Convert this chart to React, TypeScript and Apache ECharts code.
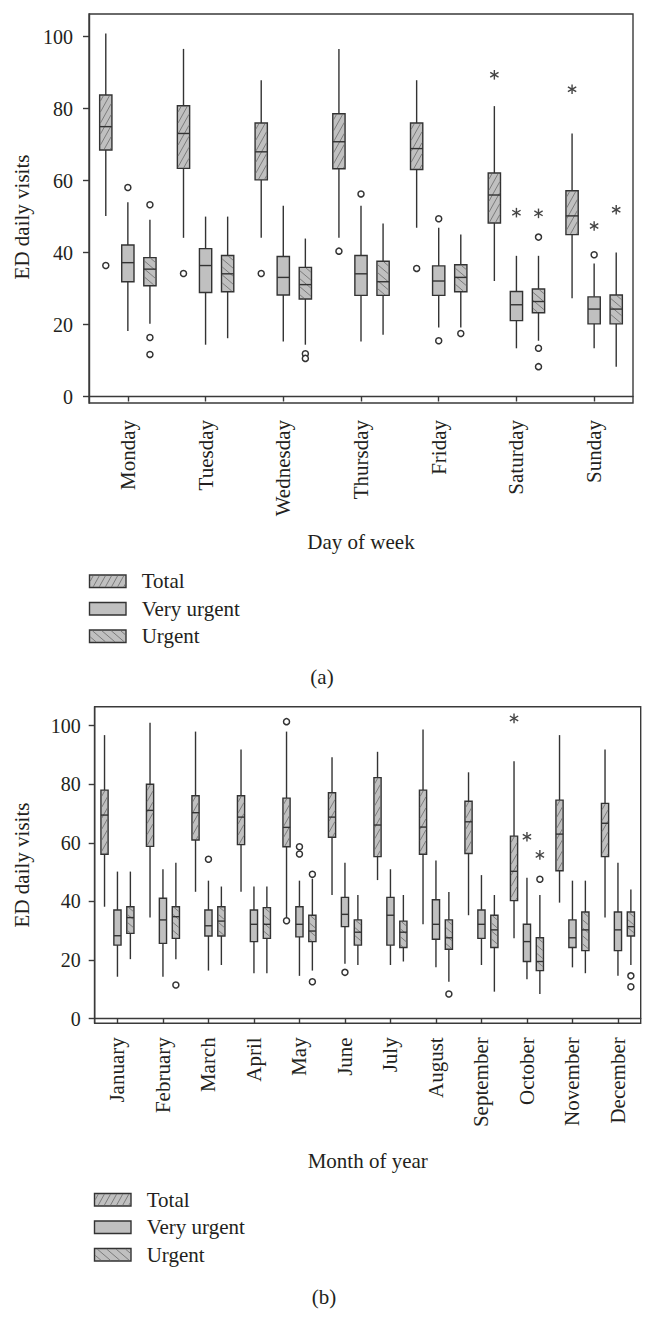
import React, { useEffect, useRef } from "react";
import * as echarts from "echarts";

// ---------- Data ----------
const days = ["Monday", "Tuesday", "Wednesday", "Thursday", "Friday", "Saturday", "Sunday"];
const months = ["January", "February", "March", "April", "May", "June", "July", "August", "September", "October", "November", "December"];
const yTickValues = [0, 20, 40, 60, 80, 100];
const seriesNames = ["Total", "Very urgent", "Urgent"];

// [min, q1, median, q3, max]
const dayTotal = [
  [50.2, 68.5, 75, 83.8, 100.9],
  [44.1, 63.4, 73.1, 80.8, 96.6],
  [44.1, 60.2, 68, 76, 87.9],
  [44.1, 63.3, 70.8, 78.6, 96.6],
  [46.9, 63.1, 68.9, 76, 87.9],
  [32.1, 48.2, 56, 62.1, 80.7],
  [27.3, 45, 50.2, 57.2, 73.1],
];
const dayVeryUrgent = [
  [18.2, 31.9, 37.2, 42.1, 54],
  [14.4, 28.9, 36.4, 41.1, 50],
  [15.3, 28.2, 33.1, 38.9, 53],
  [15.3, 28.1, 34.1, 39.2, 53],
  [19.2, 28.1, 32.1, 36.3, 46.9],
  [13.4, 21.1, 25.5, 29.2, 39.1],
  [13.4, 20.2, 24.3, 27.7, 37],
];
const dayUrgent = [
  [20.2, 30.8, 35.4, 38.6, 49.1],
  [16.2, 29.1, 34.1, 39.2, 50],
  [14.4, 27.1, 31.1, 35.9, 43.9],
  [17.2, 28.1, 31.9, 37.6, 48.1],
  [19.2, 29.1, 33.1, 36.6, 45],
  [15.5, 23.3, 26.4, 29.9, 39.1],
  [8.3, 20.2, 24.3, 28.2, 40],
];
// outliers: [categoryIndex, value]
const dayTotalCircles = [[0, 36.4], [1, 34.2], [2, 34.2], [3, 40.4], [4, 35.6]];
const dayTotalStars = [[5, 89.4], [6, 85.4]];
const dayVeryUrgentCircles = [[0, 58.1], [3, 56.3], [4, 49.4], [4, 15.5], [6, 39.4]];
const dayVeryUrgentStars = [[5, 51.1], [6, 47.4]];
const dayUrgentCircles = [[0, 53.3], [0, 16.4], [0, 11.7], [2, 11.9], [2, 10.6], [4, 17.5], [5, 44.3], [5, 13.4], [5, 8.3]];
const dayUrgentStars = [[5, 50.9], [6, 51.9]];

const monthTotal = [
  [38.2, 56.1, 69.5, 78, 96.8],
  [34.5, 58.8, 71.1, 80, 101],
  [43.3, 61, 70.3, 76.1, 98],
  [43.3, 59.4, 68.8, 76.1, 91.9],
  [34.2, 58.7, 65.3, 75.3, 98],
  [42.2, 61.9, 68.8, 77.1, 89.2],
  [47.3, 55.3, 66.1, 82.3, 91.1],
  [32.2, 56.1, 65.4, 78, 98.7],
  [35.3, 56.4, 67.2, 74.2, 84.1],
  [27.4, 40.3, 50.3, 62.3, 87.9],
  [39.6, 50.5, 63, 74.6, 96.8],
  [34.5, 55.3, 66.7, 73.5, 91.9],
];
const monthVeryUrgent = [
  [14.3, 25.1, 28.3, 37.1, 50.2],
  [14.3, 25.7, 33.7, 41.1, 51],
  [16.4, 28.2, 31.7, 37.1, 47.1],
  [15.5, 26.3, 32.2, 37.1, 45.1],
  [14.6, 27.9, 32.2, 38.2, 47.1],
  [18.7, 31.4, 35.6, 41.4, 53.2],
  [18.3, 25.1, 35.3, 41.4, 51],
  [17.5, 27.1, 32.2, 40.6, 54],
  [18.3, 27.4, 32.2, 37.1, 49],
  [13.4, 19.5, 26.3, 32.2, 48.1],
  [17.5, 24.3, 27.6, 33.7, 47.1],
  [14.6, 23.2, 30.3, 36.4, 53.2],
];
const monthUrgent = [
  [20.3, 29.1, 34.5, 38.2, 50.2],
  [20.3, 27.4, 34.8, 38.2, 53.2],
  [18.3, 28.2, 33.3, 38.2, 45.1],
  [15.5, 27.4, 32.2, 37.9, 45.1],
  [16.4, 26.3, 29.9, 35.3, 47.8],
  [18.3, 25.1, 29.5, 33.7, 42.2],
  [19.5, 24.3, 29.5, 33.3, 42.2],
  [12.6, 23.7, 27.6, 33.7, 43.2],
  [9.2, 24.3, 30.3, 35.3, 42.2],
  [8.4, 16.4, 19.5, 27.6, 42.2],
  [15.5, 23.2, 30.3, 36.4, 47.1],
  [18.3, 28.2, 31.4, 36.4, 44.1],
];
const monthTotalCircles = [[4, 101.4], [4, 33.4]];
const monthTotalStars = [[9, 102.5]];
const monthVeryUrgentCircles = [[2, 54.4], [4, 58.7], [4, 56.2], [5, 15.8]];
const monthVeryUrgentStars = [[9, 62.1]];
const monthUrgentCircles = [[1, 11.5], [4, 49.3], [4, 12.6], [7, 8.4], [9, 47.6], [11, 14.6], [11, 10.9]];
const monthUrgentStars = [[9, 55.9]];

// ---------- Styling helpers ----------
const FONT = "'Liberation Serif', 'DejaVu Serif', serif";
const INK = "#231f20";
const LINE = "#333333";
const FILL = "#c0c0c0";
const HATCH = "#6a6a6a";
const OFFSETS = [-0.284, 0, 0.284]; // fraction of category band
const BOX_FRAC = 0.158;

type Hatch = { dir: 1 | -1; slope: number; step: number } | null;
const HATCHES: Hatch[] = [
  { dir: 1, slope: 1.8, step: 11 },
  null,
  { dir: -1, slope: 0.85, step: 8 },
];

function hatchLines(x0: number, y0: number, w: number, h: number, hatch: Hatch) {
  const out: any[] = [];
  if (!hatch || w <= 0 || h <= 0) return out;
  const { dir, slope, step } = hatch;
  const style = { stroke: HATCH, lineWidth: 0.8 };
  if (dir === 1) {
    for (let c = y0 + step / 2; c < y0 + h + slope * w; c += step) {
      let xa = x0 + (c - (y0 + h)) / slope;
      let xb = x0 + (c - y0) / slope;
      xa = Math.max(xa, x0);
      xb = Math.min(xb, x0 + w);
      if (xb <= xa) continue;
      out.push({
        type: "line",
        shape: { x1: xa, y1: c - slope * (xa - x0), x2: xb, y2: c - slope * (xb - x0) },
        style,
      });
    }
  } else {
    for (let c = y0 - slope * w + step / 2; c < y0 + h; c += step) {
      let xa = x0 + (y0 - c) / slope;
      let xb = x0 + (y0 + h - c) / slope;
      xa = Math.max(xa, x0);
      xb = Math.min(xb, x0 + w);
      if (xb <= xa) continue;
      out.push({
        type: "line",
        shape: { x1: xa, y1: c + slope * (xa - x0), x2: xb, y2: c + slope * (xb - x0) },
        style,
      });
    }
  }
  return out;
}

function boxSeries(name: string, stats: number[][], axis: number, k: number) {
  return {
    type: "custom",
    name,
    xAxisIndex: axis,
    yAxisIndex: axis,
    clip: false,
    data: stats.map((s, i) => [i, ...s]),
    encode: { x: 0, y: [1, 2, 3, 4, 5] },
    renderItem: (params: any, api: any) => {
      const i = api.value(0);
      const band = api.size([1, 0])[0];
      const cx = api.coord([i, 0])[0] + OFFSETS[k] * band;
      const w = band * BOX_FRAC;
      const yMin = api.coord([i, api.value(1)])[1];
      const yQ1 = api.coord([i, api.value(2)])[1];
      const yMed = api.coord([i, api.value(3)])[1];
      const yQ3 = api.coord([i, api.value(4)])[1];
      const yMax = api.coord([i, api.value(5)])[1];
      const ls = { stroke: LINE, lineWidth: 1.4 };
      const x0 = cx - w / 2;
      return {
        type: "group",
        children: [
          { type: "line", shape: { x1: cx, y1: yMax, x2: cx, y2: yQ3 }, style: ls },
          { type: "line", shape: { x1: cx, y1: yQ1, x2: cx, y2: yMin }, style: ls },
          { type: "rect", shape: { x: x0, y: yQ3, width: w, height: yQ1 - yQ3 }, style: { fill: FILL, stroke: LINE, lineWidth: 1.4 } },
          ...hatchLines(x0 + 0.7, yQ3 + 0.7, w - 1.4, yQ1 - yQ3 - 1.4, HATCHES[k]),
          { type: "line", shape: { x1: x0, y1: yMed, x2: x0 + w, y2: yMed }, style: ls },
        ],
      };
    },
  };
}

function outlierSeries(name: string, circles: number[][], stars: number[][], axis: number, k: number) {
  const data = [...circles.map((c) => [c[0], c[1], 0]), ...stars.map((s) => [s[0], s[1], 1])];
  return {
    type: "custom",
    name: name + " outliers",
    xAxisIndex: axis,
    yAxisIndex: axis,
    clip: false,
    data,
    encode: { x: 0, y: 1 },
    renderItem: (params: any, api: any) => {
      const i = api.value(0);
      const band = api.size([1, 0])[0];
      const p = api.coord([i, api.value(1)]);
      const cx = p[0] + OFFSETS[k] * band;
      const cy = p[1];
      if (api.value(2) === 0) {
        return { type: "circle", shape: { cx, cy, r: 3 }, style: { fill: "#fff", stroke: LINE, lineWidth: 1.5 } };
      }
      const r = 4.8;
      const st = { stroke: "#444", lineWidth: 1.4 };
      const a = Math.PI / 3;
      return {
        type: "group",
        children: [0, 1, 2].map((j) => ({
          type: "line",
          shape: {
            x1: cx + r * Math.sin(j * a),
            y1: cy - r * Math.cos(j * a),
            x2: cx - r * Math.sin(j * a),
            y2: cy + r * Math.cos(j * a),
          },
          style: st,
        })),
      };
    },
  };
}

function legendGraphic(x: number, y: number, gap: number, textX: number) {
  const children: any[] = [];
  const w = 36.5;
  const h = 12.5;
  seriesNames.forEach((n, k) => {
    const top = y + k * gap;
    children.push({ type: "rect", shape: { x, y: top, width: w, height: h }, style: { fill: FILL, stroke: LINE, lineWidth: 1.4 } });
    hatchLines(x + 0.7, top + 0.7, w - 1.4, h - 1.4, HATCHES[k]).forEach((l) => children.push(l));
    children.push({
      type: "text",
      x: textX,
      y: top + h / 2,
      style: { text: n, fill: INK, font: `21px ${FONT}`, textVerticalAlign: "middle", textAlign: "left" },
    });
  });
  return { type: "group", children };
}

function makeAxes(
  idx: number,
  cats: string[],
  xName: string,
  xNameGap: number,
  labelMargin: number,
  yMin: number,
  yMax: number,
  yLabelMargin: number,
  yNameGap: number,
  yNamePad: number[]
) {
  const axisLine = { show: true, lineStyle: { color: "#3a3a3a", width: 1.4 } };
  return {
    x: {
      type: "category",
      gridIndex: idx,
      data: cats,
      boundaryGap: true,
      axisLine,
      axisTick: { show: true, alignWithLabel: true, length: 5, lineStyle: { color: "#3a3a3a", width: 1.4 } },
      axisLabel: { interval: 0, rotate: 90, margin: labelMargin, color: INK, fontFamily: FONT, fontSize: 21 },
      name: xName,
      nameLocation: "middle",
      nameGap: xNameGap,
      nameTextStyle: { color: INK, fontFamily: FONT, fontSize: 21 },
      splitLine: { show: false },
    },
    y: {
      type: "value",
      gridIndex: idx,
      min: yMin,
      max: yMax,
      axisLine,
      axisTick: { show: true, length: 6, customValues: yTickValues, lineStyle: { color: "#3a3a3a", width: 1.4 } },
      axisLabel: { customValues: yTickValues, margin: yLabelMargin, color: INK, fontFamily: FONT, fontSize: 20 },
      splitLine: { show: false },
      name: "ED daily visits",
      nameLocation: "middle",
      nameGap: yNameGap,
      nameTextStyle: { color: INK, fontFamily: FONT, fontSize: 21, padding: yNamePad },
    },
  };
}

export default function App() {
  const ref = useRef<HTMLDivElement>(null);
  useEffect(() => {
    if (!ref.current) return;
    const chart = echarts.init(ref.current, null, { renderer: "svg" });
    const a0 = makeAxes(0, days, "Day of week", 128, 17, -1.8, 106.3, 16, 44, [0, 17, 0, 0]);
    const a1 = makeAxes(1, months, "Month of year", 127, 14, -1.6, 106.5, 14, 62, [0, 0, 0, 0]);
    const option: any = {
      animation: false,
      backgroundColor: "#ffffff",
      textStyle: { fontFamily: FONT },
      grid: [
        { left: 89, right: 22, top: 14, height: 389, show: true, borderColor: "#3a3a3a", borderWidth: 1.4, backgroundColor: "transparent" },
        { left: 94.7, right: 14.3, top: 706.7, height: 316.6, show: true, borderColor: "#3a3a3a", borderWidth: 1.4, backgroundColor: "transparent" },
      ],
      xAxis: [a0.x, a1.x],
      yAxis: [a0.y, a1.y],
      series: [
        boxSeries("Total", dayTotal, 0, 0),
        boxSeries("Very urgent", dayVeryUrgent, 0, 1),
        boxSeries("Urgent", dayUrgent, 0, 2),
        outlierSeries("Total", dayTotalCircles, dayTotalStars, 0, 0),
        outlierSeries("Very urgent", dayVeryUrgentCircles, dayVeryUrgentStars, 0, 1),
        outlierSeries("Urgent", dayUrgentCircles, dayUrgentStars, 0, 2),
        boxSeries("Total", monthTotal, 1, 0),
        boxSeries("Very urgent", monthVeryUrgent, 1, 1),
        boxSeries("Urgent", monthUrgent, 1, 2),
        outlierSeries("Total", monthTotalCircles, monthTotalStars, 1, 0),
        outlierSeries("Very urgent", monthVeryUrgentCircles, monthVeryUrgentStars, 1, 1),
        outlierSeries("Urgent", monthUrgentCircles, monthUrgentStars, 1, 2),
      ],
      graphic: [
        legendGraphic(89.5, 575, 27.5, 141.7),
        legendGraphic(94.5, 1193.5, 27.5, 146.7),
        { type: "text", x: 322, y: 677, style: { text: "(a)", fill: INK, font: `21px ${FONT}`, textAlign: "center", textVerticalAlign: "middle" } },
        { type: "text", x: 324, y: 1297, style: { text: "(b)", fill: INK, font: `21px ${FONT}`, textAlign: "center", textVerticalAlign: "middle" } },
      ],
    };
    chart.setOption(option);
    return () => chart.dispose();
  }, []);
  return <div ref={ref} style={{ position: "absolute", left: 0, top: 0, width: 655, height: 1339, background: "#fff" }} />;
}
